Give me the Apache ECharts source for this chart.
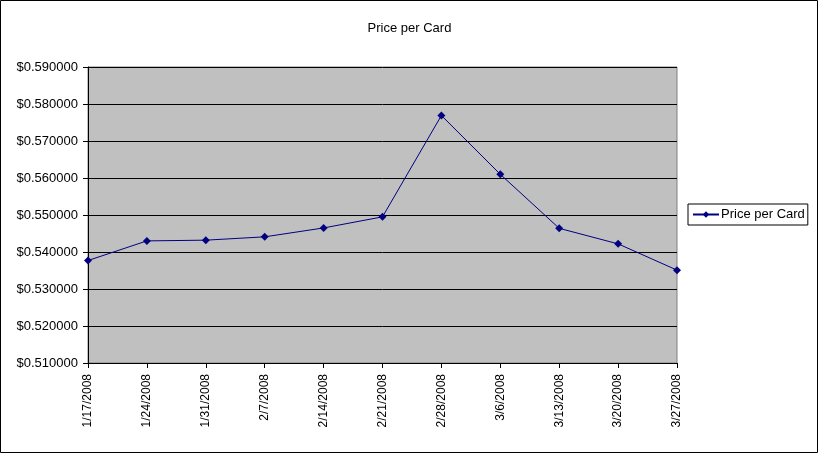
<!DOCTYPE html>
<html><head><meta charset="utf-8">
<script src="https://cdn.jsdelivr.net/npm/echarts@6/dist/echarts.min.js"></script>
<style>html,body{margin:0;padding:0;background:#fff}#c{width:819px;height:454px}</style>
</head><body><div id="c"></div>
<script>
var categories = ['1/17/2008','1/24/2008','1/31/2008','2/7/2008','2/14/2008','2/21/2008','2/28/2008','3/6/2008','3/13/2008','3/20/2008','3/27/2008'];
var pricePerCard = [0.5377, 0.5430, 0.5432, 0.5441, 0.5465, 0.5495, 0.5769, 0.5610, 0.5464, 0.5422, 0.5351];
var seriesName = 'Price per Card';
var chartTitle = 'Price per Card';

var chart = echarts.init(document.getElementById('c'));
var font = 'Liberation Sans, Arial, sans-serif';
chart.setOption({
  animation: false,
  backgroundColor: '#fff',
  title: { text: chartTitle, left: 'center', top: 17, textStyle: { fontFamily: font, fontSize: 13, fontWeight: 'normal', color: '#000' } },
  graphic: [{ type: 'rect', shape: { x: 0.5, y: 0.5, width: 817, height: 452 }, style: { fill: 'none', stroke: '#000', lineWidth: 1 }, z: 100 }],
  legend: {
    data: [seriesName], orient: 'vertical', left: 688, top: 204,
    backgroundColor: '#fff', borderColor: '#000', borderWidth: 1, padding: [4, 3, 4, 4],
    itemWidth: 26, itemHeight: 8, itemGap: 0,
    textStyle: { fontFamily: font, fontSize: 13, color: '#000', padding: [0, 0, 0, -3] }
  },
  grid: { left: 88, right: 142, top: 67, bottom: 91, show: true, backgroundColor: '#c0c0c0', borderColor: '#808080', borderWidth: 1 },
  xAxis: {
    type: 'category', data: categories, boundaryGap: false,
    axisLine: { lineStyle: { color: '#000' } },
    axisTick: { show: true, length: 5, lineStyle: { color: '#000' }, alignWithLabel: true },
    axisLabel: { rotate: 90, fontFamily: font, fontSize: 12, color: '#000', margin: 11, interval: 0 },
    splitLine: { show: false }
  },
  yAxis: {
    type: 'value', min: 0.51, max: 0.59, interval: 0.01,
    axisLine: { show: true, lineStyle: { color: '#000' } },
    axisTick: { show: true, length: 5, lineStyle: { color: '#000' } },
    axisLabel: { fontFamily: font, fontSize: 13, color: '#000', margin: 10, formatter: function (v) { return '$' + v.toFixed(6); } },
    splitLine: { show: true, lineStyle: { color: '#000', width: 1 } }
  },
  series: [{
    name: seriesName, type: 'line', data: pricePerCard,
    symbol: 'diamond', symbolSize: 8, showAllSymbol: true,
    lineStyle: { color: '#000080', width: 1 },
    itemStyle: { color: '#000080' }
  }]
});
</script></body></html>
